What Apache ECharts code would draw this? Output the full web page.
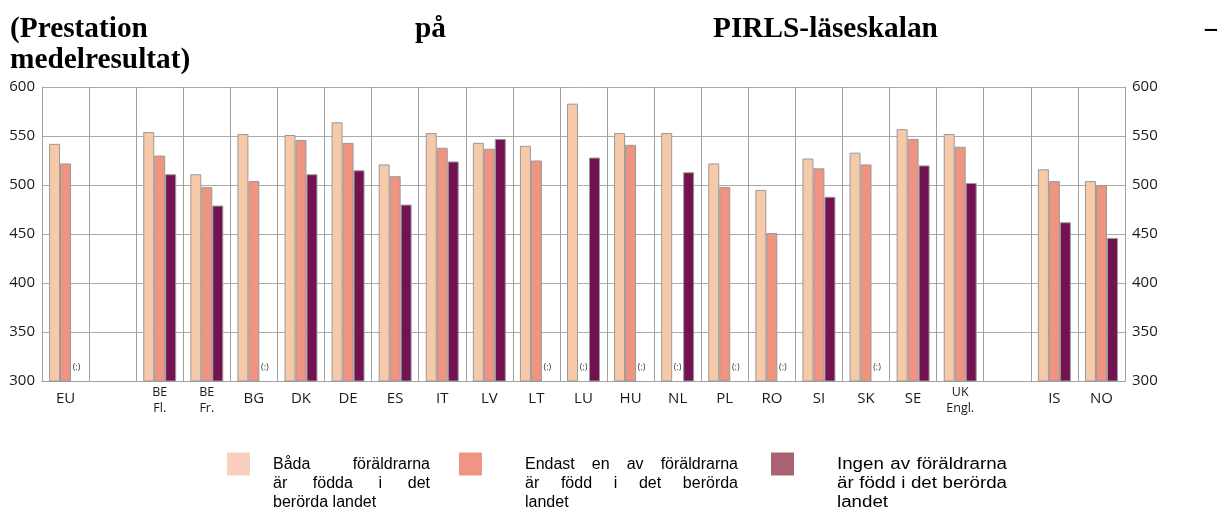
<!DOCTYPE html>
<html><head><meta charset="utf-8">
<script src="https://cdn.jsdelivr.net/npm/echarts@6/dist/echarts.min.js"></script>
<style>html,body{margin:0;padding:0;background:#fff}#c{width:1217px;height:514px}</style>
</head><body><div id="c"></div>
<script>
// ---- data ----
const categories = ['EU', '', 'BE\nFl.', 'BE\nFr.', 'BG', 'DK', 'DE', 'ES', 'IT', 'LV', 'LT', 'LU', 'HU', 'NL', 'PL', 'RO', 'SI', 'SK', 'SE', 'UK\nEngl.', '', 'IS', 'NO'];
const bothBorn = [542, null, 554, 511, 552, 551, 564, 521, 553, 543, 540, 583, 553, 553, 522, 495, 527, 533, 557, 552, null, 516, 504];
const oneBorn  = [522, null, 530, 498, 504, 546, 543, 509, 538, 537, 525, null, 541, null, 498, 451, 517, 521, 547, 539, null, 504, 500];
const noneBorn = [null, null, 511, 479, null, 511, 515, 480, 524, 547, null, 528, null, 513, null, null, 488, null, 520, 502, null, 462, 446];
const yMin = 300, yMax = 600, yStep = 50;
const seriesNames = ['Båda föräldrarna är födda i det berörda landet', 'Endast en av föräldrarna är född i det berörda landet', 'Ingen av föräldrarna är född i det berörda landet'];
const legendLines = [
  ['Båda föräldrarna', 'är födda i det', 'berörda landet'],
  ['Endast en av föräldrarna', 'är född i det berörda', 'landet'],
  ['Ingen av föräldrarna', 'är född i det berörda', 'landet']
];
const titleLine1 = ['(Prestation', 'på', 'PIRLS-läseskalan', '–'];
const titleLine2 = 'medelresultat)';
const missingLabel = '(:)';

// ---- styles ----
const barColors = ['#f6c9a8', '#ef9481', '#731250'];
const swatchColors = ['#f9cfbf', '#f09484', '#aa6273'];
const axisFont = '"Open Sans", "Noto Sans", sans-serif';

const ctx = document.createElement('canvas').getContext('2d');
function tw(text, font) { ctx.font = font; return ctx.measureText(text).width; }

function lineEls(words, x, width, y, font, fill, scale, doJustify) {
  const ws = words.map(t => tw(t, font) * scale);
  const spaceW = tw(' ', font) * scale;
  const total = ws.reduce((a, b) => a + b, 0);
  let gap = spaceW;
  if (doJustify && words.length > 1) gap = (width - total) / (words.length - 1);
  const els = [];
  let cx = x;
  words.forEach((t, i) => {
    els.push({ type: 'text', x: cx, y: y, scaleX: scale, silent: true,
      style: { text: t, font: font, fill: fill, textAlign: 'left', textVerticalAlign: 'middle', verticalAlign: 'middle' } });
    cx += ws[i] + gap;
  });
  return els;
}

const graphics = [];
// title
const titleFont = 'bold 29.33px "Liberation Serif", "Times New Roman", serif';
graphics.push(...lineEls(titleLine1, 10, 1209.6, 29, titleFont, '#000', 1, true));
graphics.push(...lineEls([titleLine2], 10, 0, 60, titleFont, '#000', 1, false));

// legend
const legFont = '16px "Liberation Sans", Arial, sans-serif';
const swatchX = [227, 459, 771];
const textX = [273, 525, 837];
const textW = [157, 213, 170];
const textScale = [1, 1, 1.17];
const lineY = [465, 484, 503];
legendLines.forEach((lines, k) => {
  graphics.push({ type: 'rect', silent: true, shape: { x: swatchX[k], y: 452.5, width: 23, height: 23 }, style: { fill: swatchColors[k] } });
  lines.forEach((ln, j) => {
    const words = ln.split(' ');
    graphics.push(...lineEls(words, textX[k], textW[k], lineY[j], legFont, '#000', textScale[k], j < lines.length - 1));
  });
});

function toData(arr) {
  return arr.map((v, i) => {
    if (v != null) return v;
    if (categories[i] === '') return null;
    return { value: yMin, itemStyle: { color: 'rgba(0,0,0,0)', borderWidth: 0 },
      label: { show: true, formatter: missingLabel, position: 'top', distance: 9, fontSize: 9, color: '#333', fontFamily: axisFont } };
  });
}

const allSeries = [bothBorn, oneBorn, noneBorn].map((arr, k) => ({
  name: seriesNames[k], type: 'bar', data: toData(arr),
  barGap: '0%', barCategoryGap: '30%',
  itemStyle: { color: barColors[k], borderColor: '#9a9a9a', borderWidth: 1 },
  emphasis: { disabled: true }, animation: false
}));

const chart = echarts.init(document.getElementById('c'), null, { renderer: 'canvas' });
chart.setOption({
  animation: false,
  backgroundColor: '#fff',
  grid: { left: 42, right: 92, top: 87, bottom: 133 },
  xAxis: {
    type: 'category', data: categories, boundaryGap: true,
    axisLine: { show: true, lineStyle: { color: '#a0a0a0', width: 1 } },
    axisTick: { show: false },
    splitLine: { show: true, interval: 0, lineStyle: { color: '#a0a0a0', width: 1 } },
    axisLabel: {
      interval: 0, margin: 3, color: '#1a1a1a', fontFamily: axisFont,
      formatter: v => v.indexOf('\n') >= 0 ? v.split('\n').map(s => '{s|' + s + '}').join('\n') : '{b|' + v + '}',
      rich: { s: { fontSize: 12.5, lineHeight: 16.5, fontFamily: axisFont, color: '#1a1a1a' },
              b: { fontSize: 15, lineHeight: 29, fontFamily: axisFont, color: '#1a1a1a' } }
    }
  },
  yAxis: [
    { type: 'value', min: yMin, max: yMax, interval: yStep, position: 'left',
      axisLine: { show: true, lineStyle: { color: '#a0a0a0' } }, axisTick: { show: false },
      splitLine: { show: true, lineStyle: { color: '#aaaaaa' } },
      axisLabel: { margin: 7, fontSize: 15, color: '#1a1a1a', fontFamily: axisFont } },
    { type: 'value', min: yMin, max: yMax, interval: yStep, position: 'right',
      axisLine: { show: true, lineStyle: { color: '#a0a0a0' } }, axisTick: { show: false },
      splitLine: { show: false },
      axisLabel: { margin: 7, fontSize: 15, color: '#1a1a1a', fontFamily: axisFont } }
  ],
  series: allSeries,
  graphic: graphics
});
</script>
</body></html>
